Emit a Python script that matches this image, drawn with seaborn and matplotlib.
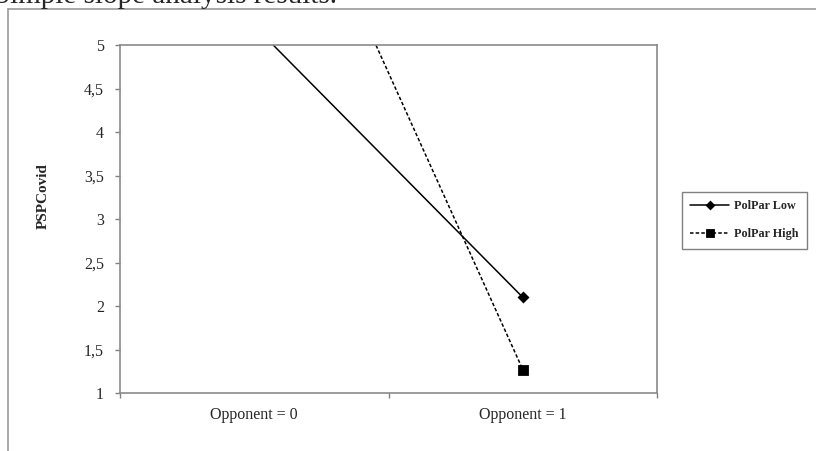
import seaborn as sns
import matplotlib.pyplot as plt
from matplotlib.lines import Line2D
import pandas as pd

# Simple slopes
opponent = ["Opponent = 0", "Opponent = 1"]
groups = ["PolPar Low", "PolPar High"]
low_vals = [5.22, 2.10]
high_vals = [8.09, 1.27]
y_ticks = [1, 1.5, 2, 2.5, 3, 3.5, 4, 4.5, 5]

df = pd.DataFrame({
    "Opponent": opponent * 2,
    "PSPCovid": low_vals + high_vals,
    "group": [groups[0]] * 2 + [groups[1]] * 2,
})

sns.set_theme(style="ticks")
plt.rcParams["font.family"] = ["Liberation Serif", "DejaVu Serif"]

W, H = 816, 451
fig = plt.figure(figsize=(W / 100, H / 100), dpi=100)
ax = fig.add_axes([120 / W, 1 - 393 / H, (657 - 120) / W, (393 - 45) / H])

sns.pointplot(data=df, x="Opponent", y="PSPCovid", hue="group", hue_order=groups,
              palette=["black", "black"], markers=["D", "s"], linestyles=["-", "--"],
              errorbar=None, legend=False, ax=ax)

# tweak the two lines to look like the excel chart
ax.lines[0].set_markersize(4)
ax.lines[0].set_linewidth(1.1)
ax.lines[1].set_markersize(5.5)
ax.lines[1].set_linewidth(1.1)
ax.lines[1].set_dashes((2.3, 1.4))

ax.set_xlim(-0.5, 1.5)
ax.set_ylim(1, 5)
ax.set_yticks(y_ticks)
ax.set_yticklabels([("%g" % v).replace(".", ",") for v in y_ticks])
ax.set_xticks([-0.5, 0.5, 1.5])
ax.set_xticklabels([])
ax.set_xticks([0, 1], minor=True)
ax.set_xticklabels(opponent, minor=True)
ax.tick_params(axis="both", which="major", length=3.6, width=1, color="#808080",
               labelsize=11.5, direction="out")
ax.tick_params(axis="x", which="minor", length=0, labelsize=11.5, pad=10)
ax.tick_params(axis="y", pad=8)
ax.set_xlabel("")
ax.set_ylabel("PSPCovid", fontsize=11, fontweight="bold")
ax.yaxis.set_label_coords(-0.13, 0.566)
for sp in ax.spines.values():
    sp.set_color("#8a8a8a")
    sp.set_linewidth(1.2)

fig.legend(handles=ax.lines[:2], labels=groups, loc="upper left",
           bbox_to_anchor=(682 / W, 1 - 192 / H), borderaxespad=0,
           frameon=True, fancybox=False, edgecolor="#808080", framealpha=1,
           prop={"size": 8.7, "weight": "bold"}, handlelength=3.2, markerscale=0.75,
           handletextpad=0.4, labelspacing=1.3, borderpad=0.7)

# outer chart frame, running off the image to the right and bottom
fig.add_artist(Line2D([7.5 / W, 7.5 / W], [0, 1 - 9 / H], color="#999999", lw=1.2))
fig.add_artist(Line2D([7.5 / W, 1], [1 - 9 / H, 1 - 9 / H], color="#999999", lw=1.2))

# caption cut off at the top of the image
fig.text(-6 / W, 1 - 3 / H, "Simple slope analysis results.", fontsize=21,
         va="baseline", ha="left")

fig.savefig("out.png", dpi=100)
